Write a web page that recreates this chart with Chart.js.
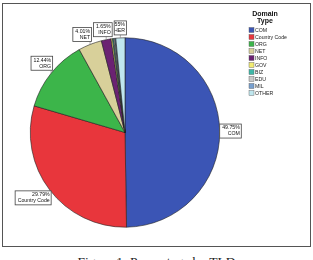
<!DOCTYPE html>
<html><head><meta charset="utf-8">
<script src="https://cdn.jsdelivr.net/npm/chart.js@4/dist/chart.umd.min.js"></script>
<style>
html,body{margin:0;padding:0;width:313px;height:260px;overflow:hidden;background:#fff}
#frame{position:absolute;left:2px;top:3px;width:309px;height:244px;border:1.5px solid #555;box-sizing:border-box}
#cap{position:absolute;left:0;top:254px;width:313px;text-align:center;font:13.5px "Liberation Serif",serif;color:#222;white-space:nowrap}
canvas{position:absolute;left:0;top:0}
</style></head><body>
<div id="frame"></div>
<div id="cap">Figure 1: Percentage by TLD</div>
<canvas id="c" width="313" height="260"></canvas>
<script>
const categories = ['COM','Country Code','ORG','NET','INFO','GOV','BIZ','EDU','MIL','OTHER'];
const percentages = [49.75, 29.79, 12.44, 4.01, 1.65, 0.25, 0.20, 0.20, 0.16, 1.55];
const showLabel = [true, true, true, true, true, false, false, false, false, true];
const sliceColors = ['#3b55b5','#e8363c','#3cb54a','#d8d09a','#6b2272','#f2ec72','#3fb8a8','#c9c9c9','#78a0cf','#bfe6ee'];
const legendTitle = ['Domain','Type'];

const labelFont = '5.2px "Liberation Sans", Arial, sans-serif';

const calloutPlugin = {
  id: 'callouts',
  afterDatasetsDraw(chart) {
    const ctx = chart.ctx;
    const meta = chart.getDatasetMeta(0);
    const ds = chart.data.datasets[0];
    ctx.save();
    ctx.font = labelFont;
    let prev = null;
    meta.data.forEach((el, i) => {
      if (!showLabel[i]) return;
      const p = el.getProps(['x','y','startAngle','endAngle','outerRadius'], true);
      const mid = (p.startAngle + p.endAngle) / 2;
      const ax = p.x + p.outerRadius * Math.cos(mid);
      const ay = p.y + p.outerRadius * Math.sin(mid);
      const lines = [ds.data[i].toFixed(2) + '%', chart.data.labels[i]];
      const w = Math.max(...lines.map(t => ctx.measureText(t).width)) + 4;
      const h = 14;
      let left, top, right;
      if (ax >= p.x) {
        left = ax; top = ay - h * 0.55;
      } else {
        right = ax + 1.5; left = right - w;
        if (ay < p.y) top = ay - 3 - h; else top = ay + 1;
      }
      let bw = w;
      if (prev && ax < p.x && ay < p.y && left < prev.left + prev.w + 1 && prev.up) {
        left = prev.left + prev.w + 2;
        bw = Math.max(ax + 6 - left, 12);
      }
      ctx.strokeStyle = '#777';
      ctx.lineWidth = 0.6;
      ctx.beginPath();
      const cx = Math.min(Math.max(ax, left), left + bw);
      const cy = Math.min(Math.max(ay, top), top + h);
      ctx.moveTo(ax, ay); ctx.lineTo(cx, cy); ctx.stroke();
      ctx.fillStyle = '#fff';
      ctx.fillRect(left, top, bw, h);
      ctx.strokeStyle = '#444';
      ctx.lineWidth = 0.8;
      ctx.strokeRect(left, top, bw, h);
      ctx.save();
      ctx.beginPath(); ctx.rect(left + 0.5, top + 0.5, bw - 1, h - 1); ctx.clip();
      ctx.fillStyle = '#111';
      ctx.textAlign = 'right';
      ctx.textBaseline = 'middle';
      ctx.fillText(lines[0], left + bw - 1.5, top + 4);
      ctx.fillText(lines[1], left + bw - 1.5, top + 10);
      ctx.restore();
      prev = {left, w: bw, up: ay < p.y && ax < p.x};
    });
    ctx.restore();
  }
};

const legendPlugin = {
  id: 'sideLegend',
  afterDraw(chart) {
    const ctx = chart.ctx;
    ctx.save();
    ctx.fillStyle = '#111';
    ctx.textAlign = 'center';
    ctx.textBaseline = 'middle';
    ctx.font = 'bold 7px "Liberation Sans", Arial, sans-serif';
    legendTitle.forEach((t, k) => ctx.fillText(t, 265, 14 + k * 7));
    ctx.font = '5.2px "Liberation Sans", Arial, sans-serif';
    ctx.textAlign = 'left';
    chart.data.labels.forEach((lab, i) => {
      const y = 30 + i * 7;
      ctx.fillStyle = sliceColors[i];
      ctx.fillRect(249, y - 2.5, 5, 5);
      ctx.strokeStyle = '#555';
      ctx.lineWidth = 0.4;
      ctx.strokeRect(249, y - 2.5, 5, 5);
      ctx.fillStyle = '#222';
      ctx.fillText(lab, 255, y + 0.3);
    });
    ctx.restore();
  }
};

new Chart(document.getElementById('c'), {
  type: 'pie',
  data: {
    labels: categories,
    datasets: [{
      data: percentages,
      backgroundColor: sliceColors,
      borderColor: '#222',
      borderWidth: 0.6
    }]
  },
  options: {
    responsive: false,
    animation: false,
    layout: { padding: { left: 30, right: 93, top: 37, bottom: 32 } },
    plugins: { legend: { display: false }, tooltip: { enabled: false } }
  },
  plugins: [calloutPlugin, legendPlugin]
});
</script>
</body></html>
